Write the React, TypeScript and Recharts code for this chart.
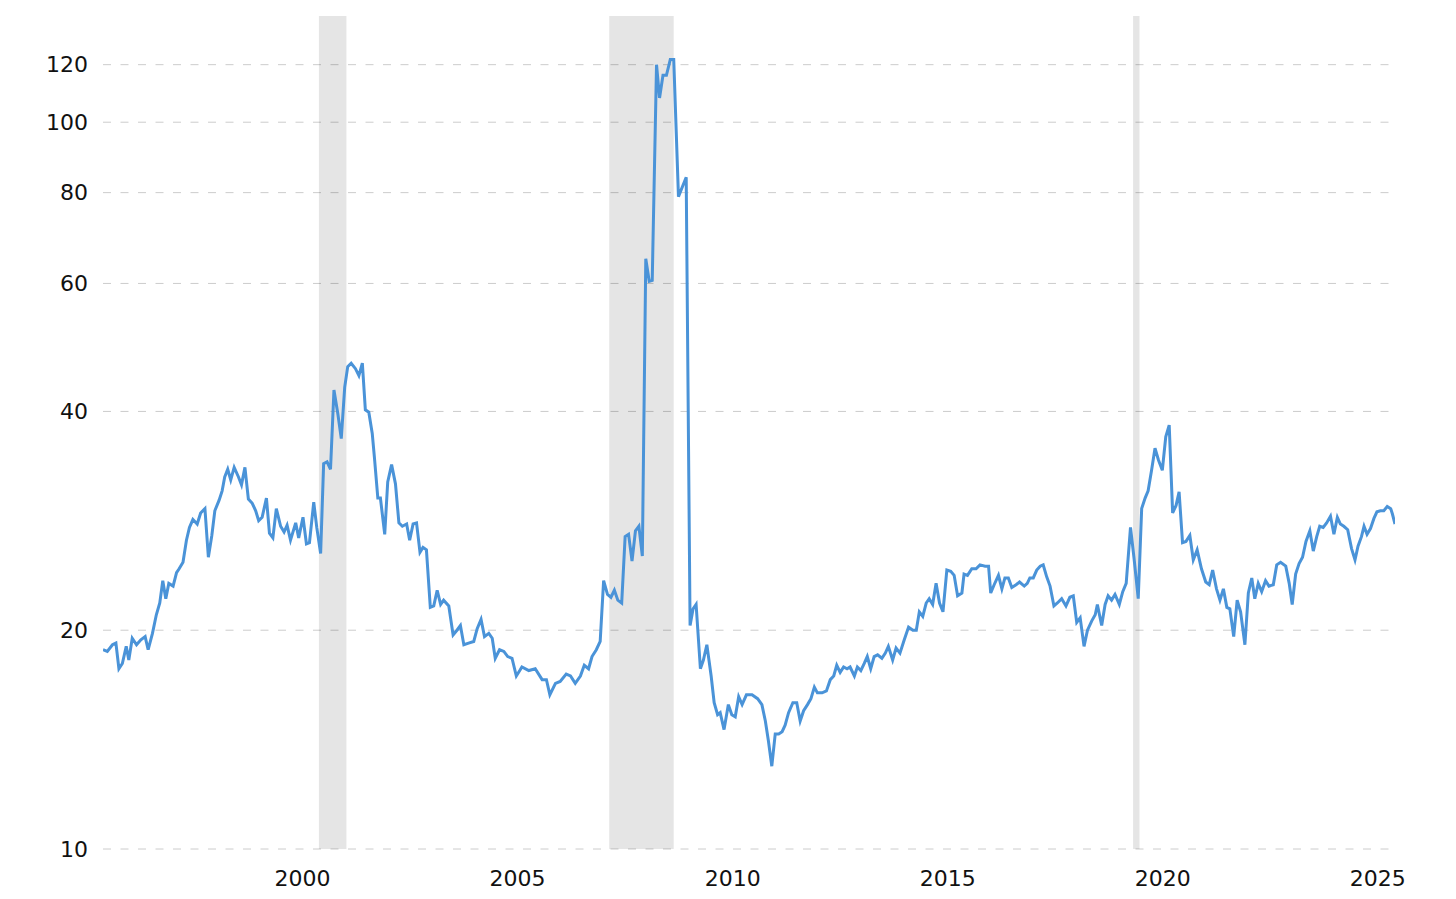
import React from "react";
import { CartesianGrid, Line, LineChart, ReferenceArea, XAxis, YAxis } from "recharts";

// decimal year of each reading
const years = [
  1995.36, 1995.46, 1995.58, 1995.66, 1995.73, 1995.81, 1995.9, 1995.96, 1996.04, 1996.14,
  1996.24, 1996.34, 1996.41, 1996.51, 1996.6, 1996.68, 1996.75, 1996.82, 1996.89, 1996.99,
  1997.07, 1997.13, 1997.22, 1997.3, 1997.37, 1997.45, 1997.55, 1997.63, 1997.73, 1997.81,
  1997.89, 1997.96, 1998.06, 1998.13, 1998.19, 1998.26, 1998.33, 1998.41, 1998.51, 1998.58,
  1998.66, 1998.74, 1998.83, 1998.91, 1998.98, 1999.06, 1999.16, 1999.23, 1999.31, 1999.39,
  1999.49, 1999.57, 1999.64, 1999.72, 1999.84, 1999.91, 2000.01, 2000.09, 2000.16, 2000.26,
  2000.33, 2000.42, 2000.49, 2000.57, 2000.65, 2000.73, 2000.82, 2000.9, 2000.98, 2001.05,
  2001.13, 2001.23, 2001.31, 2001.39, 2001.46, 2001.54, 2001.62, 2001.67, 2001.75, 2001.81,
  2001.91, 2001.98, 2002.07, 2002.16, 2002.24, 2002.32, 2002.42, 2002.49, 2002.57, 2002.65,
  2002.73, 2002.8, 2002.88, 2002.97, 2003.05, 2003.13, 2003.21, 2003.28, 2003.4, 2003.5,
  2003.59, 2003.67, 2003.75, 2003.86, 2003.98, 2004.06, 2004.15, 2004.23, 2004.33, 2004.41,
  2004.48, 2004.58, 2004.68, 2004.77, 2004.87, 2004.97, 2005.05, 2005.1, 2005.26, 2005.41,
  2005.57, 2005.67, 2005.75, 2005.88, 2005.99, 2006.13, 2006.23, 2006.34, 2006.46, 2006.55,
  2006.65, 2006.73, 2006.83, 2006.92, 2007.0, 2007.09, 2007.17, 2007.25, 2007.33, 2007.42,
  2007.5, 2007.58, 2007.66, 2007.74, 2007.82, 2007.9, 2007.98, 2008.06, 2008.13, 2008.23,
  2008.3, 2008.38, 2008.46, 2008.55, 2008.63, 2008.74, 2008.92, 2009.01, 2009.08, 2009.15,
  2009.25, 2009.32, 2009.4, 2009.5, 2009.57, 2009.65, 2009.71, 2009.8, 2009.9, 2009.98,
  2010.06, 2010.14, 2010.22, 2010.32, 2010.45, 2010.58, 2010.68, 2010.76, 2010.83, 2010.91,
  2010.99, 2011.07, 2011.15, 2011.22, 2011.3, 2011.4, 2011.49, 2011.57, 2011.65, 2011.74,
  2011.82, 2011.9, 2011.97, 2012.08, 2012.18, 2012.27, 2012.35, 2012.42, 2012.5, 2012.58,
  2012.66, 2012.73, 2012.83, 2012.9, 2012.98, 2013.06, 2013.13, 2013.21, 2013.29, 2013.37,
  2013.47, 2013.55, 2013.62, 2013.72, 2013.8, 2013.89, 2013.99, 2014.09, 2014.19, 2014.27,
  2014.34, 2014.42, 2014.5, 2014.57, 2014.65, 2014.73, 2014.81, 2014.89, 2014.98, 2015.07,
  2015.15, 2015.23, 2015.33, 2015.38, 2015.46, 2015.56, 2015.66, 2015.75, 2015.87, 2015.95,
  2016.0, 2016.08, 2016.18, 2016.26, 2016.33, 2016.41, 2016.49, 2016.59, 2016.67, 2016.78,
  2016.85, 2016.91, 2016.99, 2017.07, 2017.15, 2017.22, 2017.3, 2017.38, 2017.47, 2017.55,
  2017.65, 2017.75, 2017.84, 2017.92, 2018.0, 2018.08, 2018.17, 2018.25, 2018.35, 2018.43,
  2018.48, 2018.58, 2018.66, 2018.73, 2018.81, 2018.89, 2018.99, 2019.07, 2019.15, 2019.25,
  2019.33, 2019.43, 2019.51, 2019.59, 2019.66, 2019.74, 2019.82, 2019.9, 2019.99, 2020.07,
  2020.15, 2020.23, 2020.31, 2020.38, 2020.46, 2020.54, 2020.63, 2020.71, 2020.8, 2020.9,
  2021.0, 2021.08, 2021.16, 2021.25, 2021.33, 2021.41, 2021.49, 2021.56, 2021.65, 2021.73,
  2021.81, 2021.91, 2021.99, 2022.07, 2022.14, 2022.22, 2022.3, 2022.39, 2022.47, 2022.57,
  2022.65, 2022.74, 2022.86, 2022.94, 2023.01, 2023.09, 2023.17, 2023.25, 2023.33, 2023.42,
  2023.5, 2023.58, 2023.65, 2023.73, 2023.81, 2023.9, 2023.98, 2024.06, 2024.13, 2024.21,
  2024.3, 2024.39, 2024.47, 2024.54, 2024.62, 2024.68, 2024.75, 2024.83, 2024.91, 2024.98,
  2025.06, 2025.14, 2025.22, 2025.3, 2025.34, 2025.4
];

const values = [
  18.8, 18.7, 19.1, 19.2, 17.7, 18.0, 19.0, 18.2, 19.5, 19.1,
  19.4, 19.6, 18.8, 19.8, 21.0, 21.8, 23.4, 22.1, 23.2, 23.0,
  24.0, 24.3, 24.8, 26.6, 27.7, 28.4, 28.0, 29.0, 29.4, 25.2,
  27.0, 29.2, 30.2, 31.1, 32.5, 33.3, 32.2, 33.5, 32.5, 31.7,
  33.5, 30.3, 29.9, 29.2, 28.3, 28.6, 30.4, 27.2, 26.8, 29.4,
  27.8, 27.3, 27.9, 26.6, 28.1, 26.8, 28.6, 26.3, 26.4, 30.0,
  27.7, 25.5, 33.9, 34.1, 33.3, 42.8, 39.7, 36.7, 43.2, 46.1,
  46.6, 45.8, 44.8, 46.6, 40.2, 39.9, 37.3, 34.6, 30.4, 30.4,
  27.1, 32.0, 33.8, 31.8, 28.1, 27.8, 28.0, 26.6, 28.0, 28.1,
  25.6, 26.0, 25.8, 21.5, 21.6, 22.7, 21.7, 22.0, 21.6, 19.7,
  20.0, 20.3, 19.1, 19.2, 19.3, 20.1, 20.7, 19.6, 19.8, 19.5,
  18.3, 18.8, 18.7, 18.4, 18.3, 17.3, 17.6, 17.8, 17.6, 17.7,
  17.1, 17.1, 16.3, 16.9, 17.0, 17.4, 17.3, 16.9, 17.3, 17.9,
  17.7, 18.4, 18.8, 19.3, 23.4, 22.4, 22.2, 22.7, 22.0, 21.8,
  26.9, 27.1, 24.9, 27.4, 27.8, 25.3, 64.9, 60.4, 60.6, 120,
  108, 116, 116, 122, 122, 79, 84, 20.3, 21.4, 21.7,
  17.7, 18.2, 19.1, 17.3, 15.9, 15.3, 15.4, 14.6, 15.8, 15.3,
  15.2, 16.2, 15.8, 16.3, 16.3, 16.1, 15.8, 15.0, 14.1, 13.0,
  14.4, 14.4, 14.5, 14.8, 15.4, 15.9, 15.9, 15.0, 15.5, 15.8,
  16.1, 16.7, 16.4, 16.4, 16.5, 17.1, 17.3, 17.9, 17.5, 17.8,
  17.7, 17.8, 17.3, 17.8, 17.6, 18.0, 18.4, 17.7, 18.4, 18.5,
  18.3, 18.6, 19.0, 18.2, 18.9, 18.6, 19.4, 20.2, 20.0, 20.0,
  21.2, 20.9, 21.8, 22.1, 21.7, 23.2, 21.8, 21.2, 24.2, 24.1,
  23.8, 22.3, 22.5, 23.9, 23.8, 24.3, 24.3, 24.6, 24.5, 24.5,
  22.5, 23.1, 23.8, 22.8, 23.6, 23.6, 22.9, 23.1, 23.3, 23.0,
  23.2, 23.6, 23.6, 24.2, 24.5, 24.6, 23.7, 23.0, 21.6, 21.8,
  22.1, 21.6, 22.2, 22.3, 20.5, 20.8, 19.0, 20.0, 20.6, 21.0,
  21.7, 20.3, 21.7, 22.3, 22.0, 22.4, 21.7, 22.6, 23.2, 27.7,
  25.2, 22.1, 29.4, 30.4, 31.1, 33.2, 35.6, 34.3, 33.2, 36.9,
  38.3, 29.0, 29.7, 31.0, 26.4, 26.5, 27.0, 25.0, 25.8, 24.3,
  23.3, 23.1, 24.2, 22.8, 22.0, 22.8, 21.5, 21.4, 19.6, 22.0,
  21.2, 19.1, 22.5, 23.6, 22.1, 23.2, 22.6, 23.4, 23.0, 23.1,
  24.6, 24.8, 24.5, 23.2, 21.7, 23.9, 24.7, 25.2, 26.5, 27.4,
  25.7, 26.9, 27.8, 27.7, 28.1, 28.7, 27.1, 28.6, 28.0, 27.8,
  27.5, 25.9, 25.0, 26.1, 26.9, 27.8, 27.1, 27.6, 28.5, 29.1,
  29.2, 29.2, 29.6, 29.4, 28.9, 28.0
];

// shaded periods
const shadeStarts = [2000.38, 2007.13, 2019.31];
const shadeEnds = [2001.02, 2008.63, 2019.46];

const yearTicks = [2000, 2005, 2010, 2015, 2020, 2025];
const valueTicks = [10, 20, 40, 60, 80, 100, 120];

const data = years.map((year, i) => ({ year, value: values[i] }));

const tickStyle = { fontFamily: "DejaVu Sans, Verdana, sans-serif", fontSize: 22, fill: "#111" };

export default function App() {
  return (
    <div style={{ position: "absolute", left: 0, top: 0, background: "#fff" }}>
      <LineChart
        width={1456}
        height={899}
        data={data}
        margin={{ top: 16, right: 61, bottom: 0, left: 0 }}
      >
        {shadeStarts.map((start, i) => (
          <ReferenceArea
            key={start}
            x1={start}
            x2={shadeEnds[i]}
            fill="#000"
            fillOpacity={0.1}
            stroke="none"
            ifOverflow="visible"
          />
        ))}
        <CartesianGrid vertical={false} syncWithTicks stroke="#cccccc" strokeDasharray="8 9.5" />
        <XAxis
          dataKey="year"
          type="number"
          domain={[1995.36, 2025.4]}
          ticks={yearTicks}
          allowDataOverflow
          axisLine={false}
          tickLine={false}
          tickSize={0}
          tickMargin={21}
          height={50}
          tick={tickStyle}
        />
        <YAxis
          type="number"
          scale="log"
          domain={[10, 140]}
          ticks={valueTicks}
          allowDataOverflow
          axisLine={false}
          tickLine={false}
          tickSize={0}
          tickMargin={15}
          width={103}
          tick={tickStyle}
        />
        <Line
          type="linear"
          dataKey="value"
          stroke="#4a93d8"
          strokeWidth={3}
          dot={false}
          isAnimationActive={false}
        />
      </LineChart>
    </div>
  );
}
